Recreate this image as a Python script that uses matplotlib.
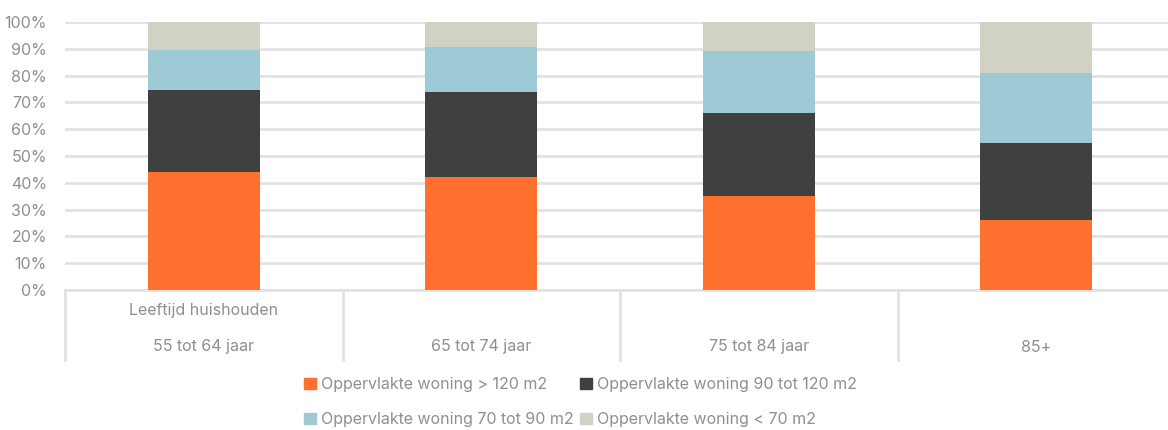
import matplotlib.pyplot as plt
import matplotlib.transforms as mtransforms
from matplotlib.patches import Patch
import numpy as np

categories = ["55 tot 64 jaar", "65 tot 74 jaar", "75 tot 84 jaar", "85+"]
group_label = "Leeftijd huishouden"
series_names = ["Oppervlakte woning > 120 m2",
                "Oppervlakte woning 90 tot 120 m2",
                "Oppervlakte woning 70 tot 90 m2",
                "Oppervlakte woning < 70 m2"]
gt120 = [44.1, 42.1, 35.1, 26.1]
w90_120 = [30.7, 31.7, 30.8, 28.8]
w70_90 = [14.9, 17.0, 23.1, 25.9]
lt70 = [10.3, 9.2, 11.0, 19.2]
colors = ["#FF6F2E", "#404040", "#9ECAD6", "#D1D1C4"]

plt.rcParams['font.family'] = ['Inter', 'DejaVu Sans']
txt = "#8f8f8f"
grid = "#e2e2e2"
fs = 11.5

fig = plt.figure(figsize=(11.68, 4.30), dpi=100)
ax = fig.add_axes([65 / 1168, 1 - 290 / 430, 1110 / 1168, 268 / 430])

x = np.arange(len(categories))
bottom = np.zeros(len(categories))
handles = []
for vals, col, name in zip([gt120, w90_120, w70_90, lt70], colors, series_names):
    ax.bar(x, vals, width=0.405, bottom=bottom, color=col, zorder=3)
    bottom += np.array(vals)
    handles.append(Patch(color=col, label=name))

ax.set_xlim(-0.5, len(categories) - 0.5)
ax.set_ylim(0, 100)
ax.set_yticks(range(0, 101, 10))
ax.set_yticklabels([f"{v}%" for v in range(0, 101, 10)])
ax.yaxis.grid(True, color=grid, linewidth=2)
ax.set_axisbelow(True)
ax.tick_params(axis='y', length=0, pad=13, labelsize=fs, labelcolor=txt)
ax.set_xticks([])
for s in ["left", "right", "top"]:
    ax.spines[s].set_visible(False)
ax.spines["bottom"].set_color(grid)
ax.spines["bottom"].set_linewidth(2)

# category table below the axis
trans = mtransforms.blended_transform_factory(ax.transData, ax.transAxes)
for b in np.arange(-0.5, len(categories) - 0.5, 1.0):
    ax.plot([b, b], [0, -70 / 268], color=grid, lw=2, transform=trans, clip_on=False)
for xi, lab in zip(x, categories):
    ax.text(xi, -57 / 268, lab, transform=trans, ha="center", va="center",
            fontsize=fs, color=txt)
ax.text(x[0], -21 / 268, group_label, transform=trans, ha="center", va="center",
        fontsize=fs, color=txt)

order = [0, 2, 1, 3]
fig.legend([handles[i] for i in order], [series_names[i] for i in order],
           ncol=2, loc="center", bbox_to_anchor=(0.497, 1 - 402 / 430),
           frameon=False, fontsize=fs, labelcolor=txt, handlelength=0.75,
           handleheight=0.75, handletextpad=0.3, columnspacing=0.4,
           labelspacing=1.25)

fig.savefig("out.png", dpi=100)
